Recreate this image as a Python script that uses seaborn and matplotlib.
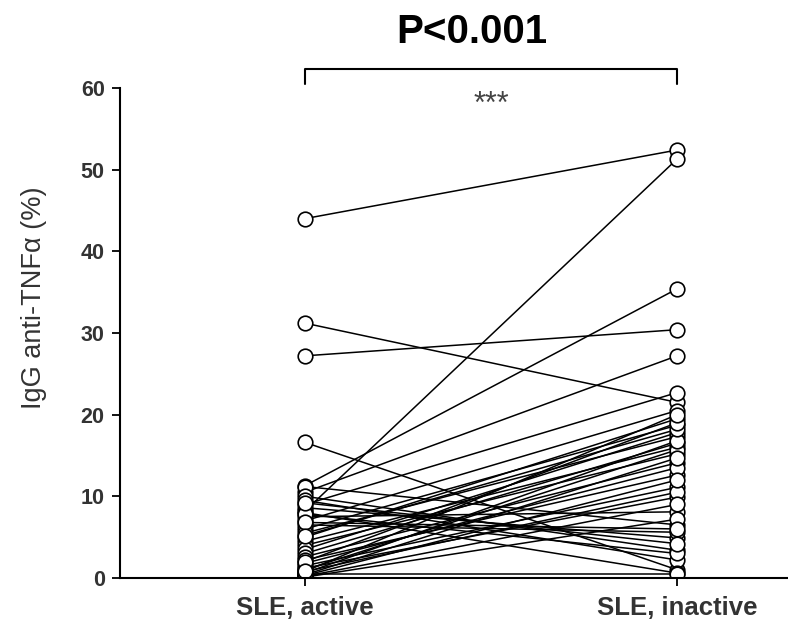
import numpy as np
import pandas as pd
import matplotlib
matplotlib.use("Agg")
import matplotlib.pyplot as plt
import seaborn as sns

groups = ["SLE, active", "SLE, inactive"]
active = [44.0, 31.2, 27.2, 16.6, 8.2, 11.3, 10.5, 11.2, 10.0, 9.5, 9.0, 8.6, 8.0, 7.5,
          7.0, 6.5, 6.0, 5.5, 5.0, 4.5, 4.0, 3.5, 3.0, 2.6, 2.2, 1.8, 1.5, 1.2, 1.0,
          0.8, 0.6, 0.5, 0.4, 0.3, 0.2, 0.1, 7.8, 6.8, 9.2, 5.2, 2.0, 0.8]
inactive = [52.4, 21.5, 30.4, 1.0, 51.3, 35.4, 27.2, 6.5, 3.4, 2.2, 22.7, 4.9, 0.6, 8.1,
            20.5, 5.6, 18.7, 17.3, 19.5, 16.0, 15.2, 17.8, 16.5, 14.1, 12.6, 13.5, 11.1,
            9.9, 15.7, 10.5, 16.8, 0.5, 14.7, 12.0, 9.0, 7.2, 3.0, 6.0, 4.2, 18.2, 19.0, 20.0]
yticks = [0, 10, 20, 30, 40, 50, 60]
title_text = "P<0.001"
stars = "***"
ylabel = "IgG anti-TNF\u03b1 (%)"

sns.set_style("white")
plt.rcParams['font.family'] = ['Liberation Sans', 'DejaVu Sans']

n = len(active)
df = pd.DataFrame({
    "subject": list(range(n)) * 2,
    "group": [0] * n + [1] * n,
    "value": active + inactive,
})

fig = plt.figure(figsize=(7.88, 6.35), dpi=100)
ax = fig.add_axes([0.1523, 0.0898, 0.8477, 0.7717])

sns.lineplot(data=df, x="group", y="value", units="subject", estimator=None,
             color="black", linewidth=1.1, marker="o", markersize=10.5,
             markerfacecolor="white", markeredgecolor="black", markeredgewidth=1.2,
             ax=ax, legend=False)

ax.set_xlim(-0.497, 1.298)
ax.set_ylim(0, 60)
ax.set_xticks([0, 1])
ax.set_xticklabels(groups, fontsize=18.5, fontweight="bold", color="#333333")
ax.set_yticks(yticks)
ax.set_yticklabels([str(t) for t in yticks], fontsize=15.5, fontweight="bold", color="#333333")
ax.set_xlabel("")
ax.set_ylabel(ylabel, fontsize=19.5, color="#333333")
ax.yaxis.set_label_coords(-0.11, 0.571)
ax.tick_params(axis="both", direction="out", length=6, width=1.3, color="black",
               left=True, bottom=True)
ax.tick_params(axis="x", pad=7)
ax.tick_params(axis="y", pad=5)
for s in ["top", "right"]:
    ax.spines[s].set_visible(False)
for s in ["left", "bottom"]:
    ax.spines[s].set_linewidth(1.5)
    ax.spines[s].set_color("black")

# significance bracket
ax.plot([0, 0, 1, 1], [60.5, 62.3, 62.3, 60.5], color="black", lw=1.5, clip_on=False)
ax.text(0.5, 57.0, stars, ha="center", va="baseline", fontsize=22, color="#444444")
fig.text(472 / 788, 1 - 32 / 635, title_text, ha="center", va="center",
         fontsize=29, fontweight="bold", color="black")

fig.savefig("out.png", dpi=100)
